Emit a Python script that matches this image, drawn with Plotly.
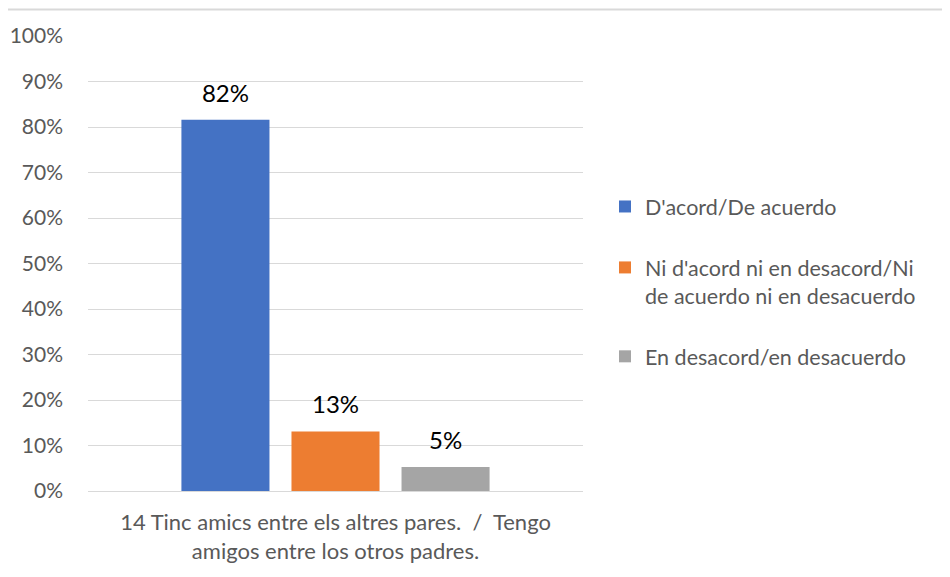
import plotly.graph_objects as go

categories = ["14 Tinc amics entre els altres pares.  /  Tengo<br>amigos entre los otros padres."]
series_names = [
    "D'acord/De acuerdo",
    "Ni d'acord ni en desacord/Ni<br>de acuerdo ni en desacuerdo",
    "En desacord/en desacuerdo",
]
series_values = [[0.816], [0.131], [0.053]]
series_colors = ["#4472C4", "#ED7D31", "#A5A5A5"]
y_ticks = [i / 10 for i in range(11)]
y_tick_labels = [f"{i * 10}%" for i in range(11)]

W, H = 950, 577
OFF = 8  # browser body margin
L, R, T, B = 88 - OFF, 367 + OFF, 36 - OFF, 86 + OFF
PW, PH = W - L - R, H - T - B
FONT = "Lato, Calibri, sans-serif"

fig = go.Figure()
for name, vals, col in zip(series_names, series_values, series_colors):
    fig.add_trace(go.Bar(
        x=categories, y=vals, name=name, legendgroup=name,
        marker=dict(color=col, line=dict(width=0)),
        texttemplate="<span style='font-size:24px'>%{y:.0%}</span><br> ",
        textposition="outside", cliponaxis=False,
        textfont=dict(family=FONT, size=10, color="#000000"),
    ))

fig.update_layout(
    width=W, height=H,
    margin=dict(l=L, r=R, t=T, b=B, autoexpand=False),
    paper_bgcolor="white", plot_bgcolor="white",
    barmode="group", bargap=0.333, bargroupgap=0.2,
    font=dict(family=FONT, size=21, color="#595959"),
    showlegend=True,
    legend=dict(
        xref="container", yref="container", x=597 / W, y=1 - 178 / H,
        xanchor="left", yanchor="top",
        font=dict(family=FONT, size=21.5, color="#595959"),
        tracegroupgap=30, itemwidth=30, valign="top",
        bgcolor="rgba(0,0,0,0)",
    ),
    xaxis=dict(showgrid=False, showline=False, ticks="", ticklabelstandoff=16,
               automargin=False,
               tickfont=dict(family=FONT, size=22, color="#595959")),
    yaxis=dict(
        range=[0, 1], tickvals=y_ticks, ticktext=y_tick_labels,
        showgrid=True, gridcolor="#D9D9D9", gridwidth=1.3,
        zeroline=True, zerolinecolor="#D9D9D9", zerolinewidth=1.3,
        showline=False, ticks="", ticklabelstandoff=24, automargin=False,
        tickfont=dict(family=FONT, size=21, color="#595959"),
    ),
    shapes=[dict(type="line", xref="paper", yref="paper",
                 x0=-L / PW - 0.05, x1=(W - L) / PW + 0.05,
                 y0=1 + (T - 1.5) / PH, y1=1 + (T - 1.5) / PH,
                 line=dict(color="#D9D9D9", width=2))],
)

fig.write_html("out.html")
